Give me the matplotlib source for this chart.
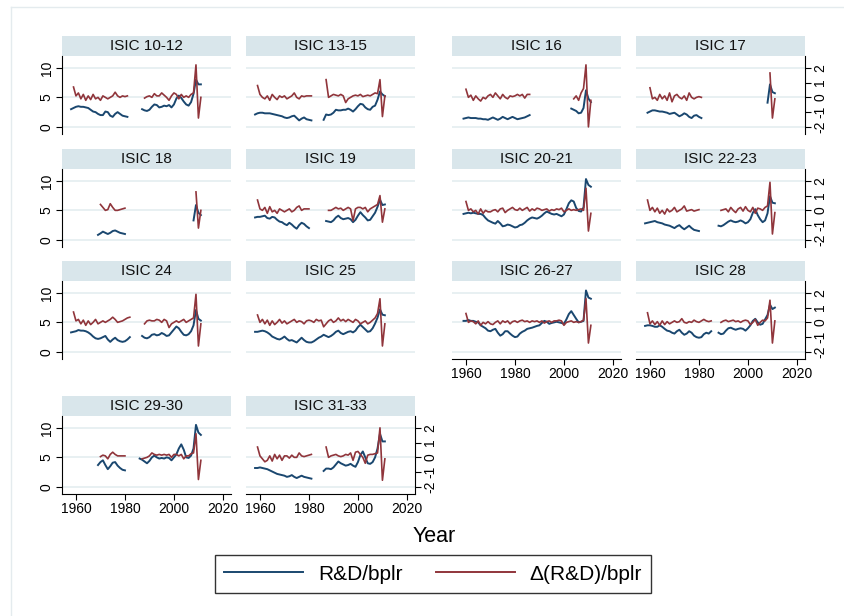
import numpy as np
import matplotlib

matplotlib.use('Agg')
import matplotlib.pyplot as plt
from matplotlib.lines import Line2D

plt.rcParams['font.family'] = ['Liberation Sans', 'DejaVu Sans']
plt.rcParams['axes.unicode_minus'] = False

BLUE = '#1a476f'
RED = '#90353b'
HEADER = '#d9e6eb'
GRID = '#e6eff1'

panels = ['ISIC 10-12', 'ISIC 13-15', 'ISIC 16', 'ISIC 17',
          'ISIC 18', 'ISIC 19', 'ISIC 20-21', 'ISIC 22-23',
          'ISIC 24', 'ISIC 25', 'ISIC 26-27', 'ISIC 28',
          'ISIC 29-30', 'ISIC 31-33']

# R&D/bplr (left axis), one (first year, values) pair per unbroken stretch
rd_level = {
    'ISIC 10-12': [(1958, [3.0, 3.2, 3.4, 3.5, 3.4, 3.4, 3.3, 3.2, 2.9, 2.6, 2.5, 2.2, 2.0, 2.0, 2.6, 2.5,
                           1.9, 1.7, 2.2, 2.5, 2.2, 1.9, 1.8, 1.7]),
                   (1987, [3.0, 2.8, 2.7, 2.9, 3.4, 3.8, 3.7, 3.3, 3.4, 3.6, 3.5, 3.7, 3.3, 3.8, 4.8, 5.3,
                           4.9, 4.3, 3.8, 3.6, 4.2, 5.6, 8.0, 7.2, 7.2])],
    'ISIC 13-15': [(1958, [2.1, 2.3, 2.4, 2.4, 2.3, 2.3, 2.3, 2.2, 2.1, 2.0, 1.9, 1.8, 1.6, 1.5, 1.6, 1.8,
                           1.9, 1.5, 1.1, 1.4, 1.6, 1.3, 1.2, 1.1]),
                   (1986, [1.2, 2.1, 2.0, 2.1, 2.4, 2.9, 2.8, 2.8, 2.9, 2.9, 3.1, 2.9, 2.6, 3.0, 3.5, 3.9,
                           3.8, 3.3, 3.0, 2.9, 3.4, 3.6, 4.6, 6.0, 5.5, 5.2])],
    'ISIC 16': [(1959, [1.4, 1.5, 1.6, 1.5, 1.5, 1.5, 1.4, 1.4, 1.3, 1.3, 1.2, 1.4, 1.6, 1.4, 1.2, 1.4,
                        1.7, 1.5, 1.3, 1.5, 1.7, 1.5, 1.3, 1.4, 1.5, 1.6, 1.8, 2.0]),
                (2003, [3.1, 2.9, 2.7, 2.3, 2.4, 3.2, 6.2, 4.8, 4.2])],
    'ISIC 17': [(1959, [2.4, 2.6, 2.8, 2.8, 2.7, 2.6, 2.6, 2.5, 2.4, 2.2, 2.3, 2.4, 2.1, 1.8, 2.0, 2.3,
                        2.1, 1.7, 1.5, 1.9, 2.0, 1.7, 1.5]),
                (2008, [4.1, 7.2, 5.9, 5.7])],
    'ISIC 18': [(1969, [0.85, 1.1, 1.4, 1.2, 1.0, 1.2, 1.5, 1.6, 1.4, 1.2, 1.1, 1.0]),
                (2008, [3.3, 5.9, 4.6, 4.2])],
    'ISIC 19': [(1958, [3.8, 3.9, 3.9, 4.0, 4.1, 3.7, 3.6, 3.9, 3.8, 3.4, 3.1, 3.0, 2.7, 2.5, 2.9, 2.6,
                        2.2, 1.9, 2.5, 2.9, 2.7, 2.3, 2.0]),
                (1987, [3.2, 3.1, 3.0, 3.3, 3.8, 4.1, 3.7, 3.5, 3.6, 3.7, 3.5, 3.0, 3.4, 4.1, 4.7, 4.2,
                        3.8, 3.3, 3.4, 4.0, 4.6, 5.6, 6.8, 5.9, 6.0])],
    'ISIC 20-21': [(1959, [4.4, 4.5, 4.6, 4.5, 4.6, 4.5, 4.4, 4.4, 4.2, 3.7, 3.3, 3.1, 2.9, 2.75, 3.2, 2.8,
                           2.3, 2.4, 2.6, 2.5, 2.3, 2.1, 2.2, 2.5, 2.6, 2.9, 3.3, 3.6, 3.8, 3.7, 3.6, 3.8,
                           4.1, 4.5, 4.8, 4.6, 4.4, 4.3, 4.4, 4.2, 4.0, 4.3, 5.2, 6.2, 6.7, 6.5, 5.4, 4.9,
                           4.8, 5.5, 10.3, 9.3, 9.0])],
    'ISIC 22-23': [(1958, [2.8, 2.9, 3.0, 3.1, 3.2, 3.0, 2.9, 2.8, 2.6, 2.5, 2.4, 2.2, 2.0, 2.3, 2.5, 2.1,
                           1.8, 2.1, 2.4, 2.0, 1.7, 1.6, 1.5]),
                   (1988, [2.4, 2.3, 2.5, 2.8, 3.1, 3.3, 3.1, 3.0, 3.1, 3.3, 3.1, 2.8, 3.0, 3.5, 4.6, 5.2,
                           4.2, 3.5, 3.0, 3.3, 4.5, 7.4, 6.3, 6.2])],
    'ISIC 24': [(1958, [3.3, 3.4, 3.5, 3.7, 3.6, 3.6, 3.5, 3.3, 3.0, 2.6, 2.3, 2.2, 2.3, 2.5, 2.7, 2.1,
                        1.7, 2.1, 2.4, 2.0, 1.8, 1.7, 1.8, 2.1, 2.5]),
                (1987, [2.7, 2.4, 2.3, 2.5, 2.9, 3.0, 2.8, 2.9, 3.2, 3.0, 2.7, 2.8, 3.3, 3.8, 4.3, 4.0,
                        3.4, 2.9, 2.8, 3.0, 3.5, 4.5, 7.1, 5.6, 5.3])],
    'ISIC 25': [(1958, [3.4, 3.4, 3.5, 3.6, 3.5, 3.3, 3.0, 2.6, 2.4, 2.2, 2.1, 2.3, 2.6, 2.2, 1.9, 2.0,
                        1.8, 1.6, 2.0, 2.4, 2.0, 1.7, 1.6, 1.6, 1.8, 2.1, 2.4, 2.6, 2.9, 2.7, 2.5, 2.7,
                        3.0, 3.4, 3.6, 3.2, 3.0, 3.2, 3.4, 3.5, 3.3, 3.6, 4.2, 4.6, 4.2, 3.8, 3.4, 3.5,
                        4.0, 4.8, 5.8, 7.2, 6.3, 6.2])],
    'ISIC 26-27': [(1959, [5.25, 5.25, 5.4, 5.25, 5.25, 5.1, 5.0, 4.5, 4.25, 4.0, 3.6, 3.5, 3.75, 3.9,
                           3.25, 2.75, 3.0, 3.5, 3.5, 3.1, 2.75, 2.5, 2.6, 3.1, 3.4, 3.6, 3.9, 4.0, 4.1,
                           4.25, 4.4, 4.5, 4.9, 5.25, 5.1, 4.75, 4.9, 5.0, 5.1, 5.0, 4.9, 4.75, 5.5, 6.4,
                           6.9, 6.25, 5.6, 5.0, 5.1, 5.25, 10.4, 9.2, 9.0])],
    'ISIC 28': [(1958, [4.4, 4.5, 4.5, 4.4, 4.25, 4.25, 4.5, 4.25, 3.9, 3.6, 3.5, 3.25, 3.1, 3.5, 3.75,
                        3.25, 2.9, 3.1, 3.5, 3.25, 2.75, 2.5, 2.4, 2.5, 3.0, 3.25, 3.1, 3.5]),
                (1988, [3.25, 3.0, 3.1, 3.6, 4.0, 4.1, 3.9, 3.75, 3.9, 4.0, 3.9, 3.6, 4.0, 4.5, 5.25,
                        5.6, 5.0, 4.6, 4.75, 5.5, 6.25, 8.0, 7.25, 7.5])],
    'ISIC 29-30': [(1969, [3.7, 4.2, 4.5, 3.7, 3.0, 3.5, 4.1, 4.2, 3.6, 3.2, 2.9, 2.8]),
                   (1986, [4.8, 4.6, 4.3, 4.0, 4.4, 5.0, 5.3, 5.0, 4.8, 4.9, 4.8, 5.0, 4.9, 4.5, 5.0,
                           5.5, 6.5, 7.2, 6.3, 5.0, 4.9, 5.3, 6.5, 10.5, 9.2, 8.8])],
    'ISIC 31-33': [(1958, [3.2, 3.2, 3.3, 3.2, 3.1, 3.0, 2.8, 2.6, 2.4, 2.2, 2.1, 2.0, 1.9, 1.7, 1.8, 2.0,
                           1.7, 1.5, 1.7, 1.9, 1.7, 1.6, 1.5, 1.4]),
                   (1986, [2.7, 3.1, 3.1, 3.0, 3.3, 3.8, 4.3, 4.0, 3.8, 3.6, 3.7, 3.9, 3.6, 3.4, 4.2,
                           5.4, 6.0, 5.0, 4.0, 3.9, 4.2, 5.0, 6.5, 9.0, 7.7, 7.7])],
}

# Δ(R&D)/bplr (right axis)
rd_change = {
    'ISIC 10-12': [(1959, [0.7, 0.1, 0.3, -0.1, 0.2, -0.2, 0.1, -0.15, 0.2, -0.1, 0.0, -0.2, 0.1, 0.0,
                           -0.1, 0.0, 0.1, 0.35, 0.1, 0.0, 0.1, 0.05, 0.1]),
                   (1988, [-0.05, 0.05, 0.1, 0.0, 0.25, 0.1, 0.1, 0.3, 0.15, 0.0, -0.2, 0.1, 0.3, 0.2,
                           -0.1, 0.2, 0.0, 0.1, 0.0, 0.2, 0.3, 2.2, -1.4, 0.0])],
    'ISIC 13-15': [(1959, [0.8, 0.2, 0.0, -0.1, 0.1, -0.2, 0.2, 0.0, -0.15, 0.1, 0.0, 0.1, -0.1, 0.0,
                           0.1, 0.3, 0.0, -0.1, 0.1, 0.05, 0.1, 0.1, 0.1]),
                   (1987, [1.2, 0.0, 0.1, 0.2, 0.15, 0.1, 0.2, 0.1, -0.35, -0.1, 0.0, 0.1, 0.15, 0.1,
                           0.2, 0.05, 0.1, 0.15, 0.1, 0.2, 0.3, 0.25, 1.2, -1.3, 0.1])],
    'ISIC 16': [(1960, [0.55, 0.0, 0.15, -0.2, 0.1, -0.1, -0.25, 0.0, -0.1, 0.1, 0.2, 0.0, 0.3, 0.1,
                        -0.1, 0.2, 0.0, -0.1, 0.1, 0.05, 0.1, 0.2, 0.1, 0.2, -0.05, 0.2, 0.2]),
                (2004, [-0.1, 0.1, -0.2, 0.3, 0.6, 2.2, -2.0, -0.2])],
    'ISIC 17': [(1960, [0.65, -0.1, 0.0, -0.2, 0.2, -0.1, 0.1, -0.2, 0.3, -0.3, 0.1, 0.2, 0.0, -0.1,
                        0.1, -0.2, 0.3, 0.0, -0.1, 0.0, 0.05, 0.0]),
                (2009, [1.65, -1.4, -0.1])],
    'ISIC 18': [(1970, [0.4, 0.2, 0.0, 0.05, 0.45, 0.2, 0.0, 0.0, 0.05, 0.1, 0.15]),
                (2009, [1.25, -1.2, 0.0])],
    'ISIC 19': [(1959, [0.7, 0.1, 0.0, 0.2, -0.2, 0.25, -0.1, 0.0, -0.2, 0.1, 0.0, -0.1, 0.0, 0.1,
                        -0.1, 0.0, 0.2, 0.3, 0.0, 0.1, 0.1, 0.1]),
                (1988, [0.0, 0.0, 0.1, 0.2, 0.1, 0.15, 0.0, 0.1, 0.2, 0.1, -0.7, 0.1, 0.2, 0.2, 0.1,
                        0.2, -0.1, 0.1, 0.2, 0.3, 0.4, 1.0, -0.8, 0.1])],
    'ISIC 20-21': [(1960, [0.6, 0.0, 0.1, -0.1, 0.0, -0.25, 0.1, -0.2, 0.0, -0.1, -0.1, 0.0, 0.05, -0.1,
                           0.1, 0.15, -0.15, 0.0, 0.1, 0.2, 0.05, 0.0, 0.15, 0.0, 0.1, 0.2, -0.05, 0.1,
                           0.0, 0.15, 0.1, 0.0, 0.05, 0.1, -0.05, 0.05, 0.0, 0.1, 0.05, 0.15, -0.1, 0.0,
                           0.1, 0.0, 0.05, 0.0, 0.05, 0.1, 0.0, 1.5, -1.4, -0.2])],
    'ISIC 22-23': [(1959, [0.7, 0.0, 0.2, -0.1, 0.15, -0.2, 0.0, -0.25, 0.1, -0.1, 0.0, 0.2, -0.1, 0.0,
                           0.1, 0.3, -0.05, 0.0, 0.05, -0.05, 0.0, 0.05]),
                   (1989, [0.0, 0.05, 0.1, -0.1, 0.2, 0.0, -0.15, 0.1, 0.2, -0.05, 0.25, 0.0, -0.1,
                           0.2, -0.2, 0.15, 0.1, 0.0, 0.2, 0.3, 1.9, -1.6, -0.15])],
    'ISIC 24': [(1959, [0.7, 0.1, 0.2, -0.1, 0.15, -0.2, 0.1, -0.15, 0.0, 0.2, -0.1, 0.0, 0.1, 0.0,
                        0.1, 0.2, 0.35, 0.2, 0.0, 0.05, 0.1, 0.2, 0.3, 0.35]),
                (1988, [-0.1, 0.1, 0.15, 0.1, 0.1, 0.2, 0.15, 0.0, 0.2, 0.1, -0.35, -0.1, 0.0, 0.1,
                        0.0, 0.1, 0.2, 0.0, 0.1, 0.2, 0.3, 1.9, -1.6, -0.1])],
    'ISIC 25': [(1959, [0.5, 0.0, 0.2, -0.1, 0.15, -0.2, 0.1, -0.15, 0.0, 0.2, -0.05, 0.1, -0.1, 0.0,
                        0.1, 0.2, 0.0, 0.1, 0.05, -0.1, 0.1, 0.15, 0.1, 0.0, 0.2, 0.1, 0.15, -0.3,
                        -0.1, 0.1, 0.2, 0.0, 0.1, 0.3, 0.1, 0.2, 0.05, 0.2, 0.1, 0.0, 0.2, 0.1, -0.1,
                        0.0, 0.1, -0.1, 0.0, 0.15, 0.3, 0.6, 1.6, -1.6, -0.1])],
    'ISIC 26-27': [(1960, [0.6, 0.0, 0.1, 0.05, -0.1, 0.1, -0.2, 0.0, -0.1, 0.05, -0.1, -0.15, 0.0, 0.1,
                           -0.1, 0.1, 0.0, 0.1, -0.1, 0.05, 0.1, 0.0, 0.1, 0.15, 0.05, 0.1, 0.0, 0.1,
                           0.05, 0.1, 0.0, 0.1, -0.05, 0.05, 0.1, 0.0, 0.1, 0.1, 0.15, 0.1, -0.2, 0.0,
                           0.05, 0.1, 0.0, 0.05, 0.0, 0.05, 0.15, 1.6, -1.4, -0.2])],
    'ISIC 28': [(1959, [0.65, -0.1, 0.1, -0.15, 0.05, -0.2, 0.1, -0.15, 0.05, -0.1, 0.0, 0.1, 0.0, 0.05,
                        0.25, 0.0, -0.05, 0.05, 0.0, 0.15, 0.05, 0.0, 0.1, 0.2, 0.1, 0.05, 0.1]),
                (1989, [0.0, 0.1, 0.15, 0.05, 0.1, 0.15, 0.05, 0.1, 0.0, 0.1, 0.15, 0.1, -0.15, 0.0,
                        0.2, -0.2, 0.0, 0.15, 0.1, 0.3, 1.5, -1.4, 0.1])],
    'ISIC 29-30': [(1970, [0.05, 0.15, 0.1, -0.1, 0.2, 0.35, 0.2, 0.1, 0.1, 0.1, 0.1]),
                   (1987, [-0.1, -0.05, 0.0, 0.1, 0.3, 0.2, 0.15, 0.2, 0.15, 0.2, 0.15, 0.2, 0.0, 0.2,
                           0.2, 0.1, 0.2, -0.1, 0.1, 0.1, 0.25, 0.3, 1.6, -1.5, -0.2])],
    'ISIC 31-33': [(1959, [0.7, 0.1, -0.1, -0.3, -0.2, 0.1, -0.25, 0.2, -0.1, 0.15, -0.2, 0.1, 0.1,
                           -0.05, 0.15, 0.0, 0.0, 0.3, 0.1, 0.05, 0.1, 0.15, 0.2]),
                   (1987, [0.7, 0.0, 0.1, 0.15, 0.2, 0.1, 0.05, 0.1, 0.2, 0.15, 0.3, -0.2, 0.35, 0.4,
                           0.2, 0.0, -0.4, 0.15, 0.2, 0.2, 0.25, 0.3, 2.0, -1.55, -0.1])],
}

left_ticks = [0, 5, 10]
right_ticks = [-2, -1, 0, 1, 2]
year_ticks = [1960, 1980, 2000, 2020]

W, H = 845, 616
col_x = [62, 246, 452, 636]
row_top = [56, 169, 281, 416]
panel_w, panel_h, head_h = 169, 78, 20
ylim_left = (-1.2, 12.0)
ylim_right = ((ylim_left[0] - 5) / 2.5, (ylim_left[1] - 5) / 2.5)
TICK_FS = 10


def px_rect(x, y, w, h):
    return [x / W, 1 - (y + h) / H, w / W, h / H]


fig = plt.figure(figsize=(W / 100, H / 100), dpi=100, facecolor='white')

# faint outer frame
fig.add_artist(Line2D([11 / W, 1], [1 - 7 / H, 1 - 7 / H], color='#e4ebee', lw=1))
fig.add_artist(Line2D([11 / W, 11 / W], [1 - 7 / H, 0], color='#e4ebee', lw=1))

x_axis_panels = {'ISIC 26-27', 'ISIC 28', 'ISIC 29-30', 'ISIC 31-33'}
right_axis_panels = {'ISIC 17', 'ISIC 22-23', 'ISIC 28', 'ISIC 31-33'}

for i, name in enumerate(panels):
    row, col = divmod(i, 4)
    x0, y0 = col_x[col], row_top[row]

    hax = fig.add_axes(px_rect(x0, y0 - head_h, panel_w, head_h))
    hax.set_facecolor(HEADER)
    hax.set_xticks([])
    hax.set_yticks([])
    for s in hax.spines.values():
        s.set_visible(False)
    hax.text(0.5, 0.5, name, ha='center', va='center', fontsize=11, color='#111111',
             transform=hax.transAxes)

    ax = fig.add_axes(px_rect(x0, y0, panel_w, panel_h))
    ax2 = ax.twinx()  # twinx resets the left ticks, so make it first

    ax.set_xlim(1954.3, 2023.3)
    ax.set_ylim(*ylim_left)
    ax.set_yticks(left_ticks)
    ax.set_xticks(year_ticks)
    ax.grid(axis='y', color=GRID, lw=1.3)
    ax.set_axisbelow(True)
    for a in (ax, ax2):
        for s in a.spines.values():
            s.set_visible(False)
            s.set_linewidth(0.8)

    if col == 0:
        ax.spines['left'].set_visible(True)
        ax.tick_params(axis='y', left=True, labelleft=True, length=4, width=0.8,
                       labelsize=TICK_FS, pad=2, labelrotation=90)
        for lab in ax.get_yticklabels():
            lab.set_va('center')
    else:
        ax.tick_params(axis='y', left=False, labelleft=False, right=False, labelright=False)

    if name in x_axis_panels:
        ax.spines['bottom'].set_visible(True)
        ax.tick_params(axis='x', length=4, width=0.8, labelsize=TICK_FS, pad=2)
    else:
        ax.tick_params(axis='x', bottom=False, labelbottom=False)

    for start, vals in rd_level[name]:
        yrs = np.arange(start, start + len(vals))
        ax.plot(yrs, vals, color=BLUE, lw=1.4, zorder=3)

    ax2.set_ylim(*ylim_right)
    ax2.set_yticks(right_ticks)
    if name in right_axis_panels:
        ax2.spines['right'].set_visible(True)
        ax2.tick_params(axis='y', length=4, width=0.8, labelsize=TICK_FS, pad=2,
                        labelrotation=90)
        for lab in ax2.get_yticklabels():
            lab.set_va('center')
    else:
        ax2.tick_params(axis='y', right=False, labelright=False, left=False, labelleft=False)

    for start, vals in rd_change[name]:
        yrs = np.arange(start, start + len(vals))
        ax2.plot(yrs, vals, color=RED, lw=1.2, zorder=2)

fig.text(434 / W, 1 - 536 / H, 'Year', ha='center', va='center', fontsize=15.5)

handles = [Line2D([], [], color=BLUE, lw=1.4), Line2D([], [], color=RED, lw=1.4)]
leg = fig.legend(handles, ['R&D/bplr', 'Δ(R&D)/bplr'], loc='center',
                 bbox_to_anchor=(433 / W, 1 - 574 / H), ncol=2, fontsize=15,
                 frameon=True, fancybox=False, edgecolor='black', handlelength=3.8,
                 handletextpad=0.7, columnspacing=1.6, borderpad=0.45)
leg.get_frame().set_linewidth(1.0)

fig.savefig('out.png', dpi=100, facecolor='white')
plt.close(fig)
